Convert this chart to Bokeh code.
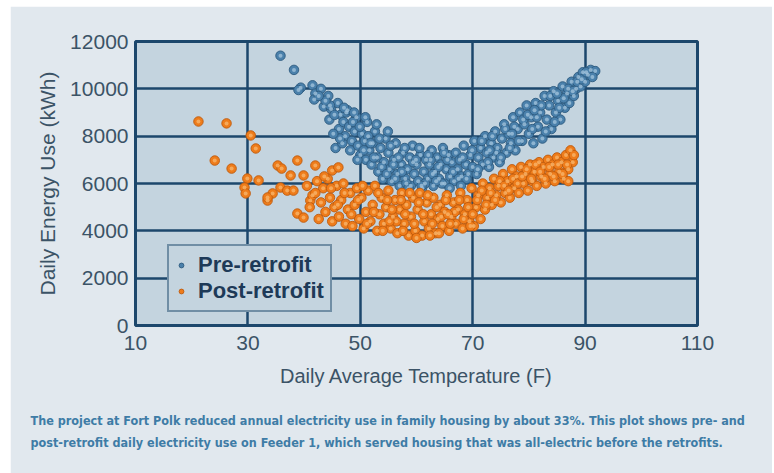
from bokeh.plotting import figure
from bokeh.models import Range1d, FixedTicker, Title, Legend, LegendItem
from bokeh.embed import file_html
from bokeh.resources import INLINE

# ---------------- data ----------------
pre_temp = [
    35.8, 38.2, 39.4, 39.0, 41.5, 42.0, 41.8, 43.5, 43.0, 44.3,
    44.8, 44.5, 45.6, 46.0, 46.5, 46.2, 47.0, 47.5, 47.3, 46.8,
    48.0, 48.5, 48.2, 49.0, 49.3, 49.6, 50.0, 50.3, 50.8, 51.0,
    51.2, 51.6, 52.0, 52.2, 52.6, 53.0, 53.2, 53.6, 54.0, 54.2,
    54.5, 55.0, 55.2, 55.6, 56.0, 56.3, 56.6, 57.0, 57.3, 57.6,
    58.0, 58.4, 58.8, 59.0, 59.3, 59.6, 60.0, 60.3, 60.7, 61.0,
    61.3, 61.7, 62.0, 62.3, 62.7, 63.0, 63.3, 63.7, 64.0, 64.3,
    64.7, 65.0, 65.3, 65.7, 66.0, 66.3, 66.7, 67.0, 67.3, 67.7,
    68.0, 68.4, 68.8, 69.2, 69.6, 70.0, 70.3, 70.7, 71.0, 71.4,
    71.8, 72.2, 72.5, 72.9, 73.3, 73.7, 74.0, 74.4, 74.8, 75.2,
    75.6, 76.0, 76.4, 76.8, 77.2, 77.6, 78.0, 78.4, 78.8, 79.2,
    79.6, 80.0, 80.4, 80.8, 81.2, 81.6, 82.0, 82.4, 82.8, 83.2,
    83.6, 84.0, 84.4, 84.8, 85.2, 85.6, 86.0, 86.4, 86.8, 87.2,
    87.6, 88.0, 88.4, 88.8, 89.2, 89.6, 90.0, 90.5, 91.0, 91.8,
    44.6, 45.4, 46.4, 47.7, 48.7, 49.9, 50.6, 51.4, 52.4, 53.4,
    53.8, 54.7, 55.4, 55.9, 56.8, 57.9, 58.2, 59.4, 60.5, 61.5,
    62.5, 62.9, 63.9, 64.5, 65.5, 66.5, 67.5, 68.2, 68.9, 69.9,
    70.9, 71.6, 72.7, 73.5, 74.2, 75.0, 75.8, 76.6, 77.4, 78.2,
    79.0, 79.8, 80.6, 81.4, 82.2, 83.0, 83.8, 84.6, 85.4, 86.2,
    87.0, 87.8, 88.6, 89.4, 90.2, 91.3, 73.0, 77.0, 81.0, 85.0,
    56.2, 58.6, 60.9, 63.5, 65.9, 67.9, 59.9, 62.1, 64.9, 57.4,
    45.2, 47.1, 48.9, 50.9, 52.9, 54.9, 43.8, 42.6, 49.5, 51.8,
]
pre_kwh = [
    11400, 10800, 10050, 9950, 10150, 9800, 9550, 9250, 10000, 9700,
    9150, 8700, 7500, 9400, 8900, 8300, 8600, 9000, 8000, 7700,
    8400, 7800, 7400, 8200, 8800, 7600, 7200, 8100, 7800, 7000,
    8600, 7400, 6800, 7700, 8200, 7100, 6500, 7500, 6200, 6900,
    7900, 7300, 6600, 6100, 7000, 7700, 6400, 5900, 6800, 7300,
    6200, 6600, 7100, 5900, 7600, 6400, 6800, 6100, 7200, 5800,
    6500, 7000, 6200, 6800, 7400, 5900, 6500, 7100, 6200, 6800,
    7500, 6000, 6600, 7200, 6300, 6900, 6100, 7300, 6600, 7000,
    6300, 7600, 6800, 6400, 7200, 6700, 7800, 6400, 7100, 7500,
    6800, 8000, 7300, 6700, 7700, 7100, 8200, 7500, 6900, 7900,
    8500, 7300, 8100, 7700, 8800, 7400, 8300, 9000, 7800, 8500,
    9300, 8100, 8800, 7700, 9400, 8400, 9000, 7900, 9700, 8700,
    9300, 8300, 9900, 9000, 9500, 8700, 10100, 9200, 9800, 9400,
    10300, 9700, 10000, 10500, 10100, 10700, 10300, 10600, 10800, 10750,
    9300, 8900, 7900, 9100, 8600, 8400, 7400, 8000, 7100, 7900,
    6700, 6400, 7600, 6800, 7100, 7500, 6000, 6900, 7500, 6000,
    7000, 6400, 6700, 6000, 7000, 6500, 6200, 7100, 6200, 7400,
    6600, 7800, 6900, 8000, 7300, 7100, 8300, 7500, 8400, 7800,
    8700, 8900, 8300, 8800, 9300, 8200, 9700, 8600, 9200, 9600,
    10000, 9900, 10300, 10400, 10700, 10500, 7400, 8100, 9100, 9800,
    6200, 5800, 5900, 6100, 5800, 5900, 7000, 7200, 7300, 6500,
    8100, 9200, 9000, 8800, 8500, 8200, 9500, 9700, 7000, 7700,
]

post_temp = [
    21.2, 26.2, 30.5, 31.4, 24.1, 27.1, 29.9, 29.4, 29.6, 31.9,
    33.5, 34.4, 35.3, 36.0, 37.6, 38.8, 39.9, 42.0, 45.0, 46.1,
    35.8, 37.0, 38.1, 33.5, 38.8, 39.9, 41.1,
    40.5, 41.0, 41.5, 42.3, 42.6, 43.0, 43.4, 43.8, 44.2, 44.6,
    45.0, 45.4, 45.8, 46.2, 46.6, 47.0, 47.4, 47.8, 48.2, 48.6,
    49.0, 49.4, 49.8, 50.2, 50.6, 51.0, 51.4, 51.8, 52.2, 52.6,
    53.0, 53.4, 53.8, 54.2, 54.6, 55.0, 55.4, 55.8, 56.2, 56.6,
    57.0, 57.4, 57.8, 58.2, 58.6, 59.0, 59.4, 59.8, 60.2, 60.6,
    61.0, 61.4, 61.8, 62.2, 62.6, 63.0, 63.4, 63.8, 64.2, 64.6,
    65.0, 65.4, 65.8, 66.2, 66.6, 67.0, 67.4, 67.8, 68.2, 68.6,
    69.0, 69.4, 69.8, 70.2, 70.6, 71.0, 71.4, 71.8, 72.2, 72.6,
    73.0, 73.4, 73.8, 74.2, 74.6, 75.0, 75.4, 75.8, 76.2, 76.6,
    77.0, 77.4, 77.8, 78.2, 78.6, 79.0, 79.4, 79.8, 80.2, 80.6,
    81.0, 81.4, 81.8, 82.2, 82.6, 83.0, 83.4, 83.8, 84.2, 84.6,
    85.0, 85.4, 85.8, 86.2, 86.6, 87.0, 87.4, 87.8, 87.0, 88.0,
    42.0, 43.6, 44.8, 46.0, 47.2, 48.4, 49.6, 50.4, 51.2, 52.4,
    53.2, 54.0, 54.8, 55.6, 56.4, 57.2, 58.0, 58.8, 59.6, 60.4,
    61.2, 62.0, 62.8, 63.6, 64.4, 65.2, 66.0, 66.8, 67.6, 68.4,
    69.2, 70.0, 70.8, 71.6, 72.4, 73.2, 74.0, 74.8, 75.6, 76.4,
    77.2, 78.0, 78.8, 79.6, 80.4, 81.2, 82.0, 82.8, 83.6, 84.4,
    85.2, 86.0, 86.8, 60.0, 62.4, 57.6, 55.2, 65.6, 64.0, 69.6,
]
post_kwh = [
    8620, 8540, 8030, 7480, 6970, 6630, 6210, 5830, 5580, 6130,
    5280, 5580, 6760, 6630, 6340, 6970, 6340, 6760, 6550, 6680,
    5830, 5700, 5700, 5410, 4730, 4560, 5280,
    5900, 5000, 5500, 6100, 4500, 5200, 5800, 4800, 6200, 5400,
    4400, 5000, 5900, 4600, 5300, 6000, 4300, 4900, 5600, 4200,
    5100, 5800, 4500, 5400, 4100, 4800, 5700, 4400, 5100, 5900,
    4000, 4700, 5400, 4300, 5000, 5700, 4100, 4600, 5300, 3900,
    4900, 5600, 4300, 5100, 3800, 4600, 5400, 4000, 4900, 5600,
    3800, 4400, 5200, 4100, 4700, 5400, 3900, 4500, 5100, 4200,
    4800, 5500, 4000, 4600, 5200, 4300, 4900, 5600, 4100, 4700,
    5300, 4400, 5800, 4200, 5000, 5500, 4500, 6000, 4900, 5400,
    5800, 5100, 6200, 5500, 5900, 5200, 6400, 5600, 6100, 5400,
    6600, 5800, 6300, 5600, 6700, 6000, 6400, 5700, 6800, 6100,
    6500, 5900, 6900, 6300, 6700, 6000, 7000, 6400, 6800, 6100,
    7100, 6500, 6900, 6200, 7200, 6600, 7400, 6900, 6100, 7200,
    5600, 6300, 5800, 5100, 5600, 4700, 5300, 5900, 4300, 4800,
    5600, 4000, 5300, 4900, 4400, 5300, 4700, 5600, 4300, 5200,
    4700, 5500, 4300, 5000, 4600, 5300, 4300, 4800, 5300, 4500,
    5000, 4700, 5300, 5700, 5100, 5600, 5300, 6100, 5900, 5700,
    6200, 6000, 6300, 6600, 6200, 6800, 6500, 6200, 6700, 6300,
    6800, 6400, 6800, 3700, 3800, 4000, 4400, 4700, 3900, 4200,
]

x_ticks = [10, 30, 50, 70, 90, 110]
y_ticks = [0, 2000, 4000, 6000, 8000, 10000, 12000]
series_labels = ["Pre-retrofit", "Post-retrofit"]
x_title = "Daily Average Temperature (F)"
y_title = "Daily Energy Use (kWh)"
caption_lines = [
    "The project at Fort Polk reduced annual electricity use in family housing by about 33%. This plot shows pre- and",
    "post-retrofit daily electricity use on Feeder 1, which served housing that was all-electric before the retrofits.",
]

# ---------------- styles ----------------
NAVY = "#1c476c"
PLOT_BG = "#c4d4df"
PANEL_BG = "#e1e8ee"
TEXT = "#3b5366"
FONT = "Liberation Sans"
CAPTION_FONT = "DejaVu Sans Condensed"

p = figure(width=762, height=467, output_backend="svg", toolbar_location=None,
           x_range=Range1d(10, 110), y_range=Range1d(0, 12000),
           min_border_left=125, min_border_right=75, min_border_top=35,
           min_border_bottom=148,
           background_fill_color=PLOT_BG, border_fill_color=PANEL_BG)
p.margin = (6, 2, 0, 10)

p.outline_line_color = NAVY
p.outline_line_width = 3

for ax in (p.xaxis, p.yaxis):
    ax.axis_line_color = None
    ax.major_tick_line_color = None
    ax.minor_tick_line_color = None
    ax.major_tick_out = 0
    ax.major_tick_in = 0
    ax.minor_tick_out = 0
    ax.major_label_text_font = FONT
    ax.major_label_text_font_size = "21px"
    ax.major_label_text_color = TEXT
    ax.axis_label_text_font = FONT
    ax.axis_label_text_font_size = "20px"
    ax.axis_label_text_font_style = "normal"
    ax.axis_label_text_color = TEXT

p.xaxis.ticker = FixedTicker(ticks=x_ticks)
p.yaxis.ticker = FixedTicker(ticks=y_ticks)
p.xaxis.major_label_standoff = 10
p.yaxis.major_label_standoff = 7
p.xaxis.axis_label = x_title
p.yaxis.axis_label = y_title
p.xaxis.axis_label_standoff = 12
p.yaxis.axis_label_standoff = 8
p.yaxis.axis_label_text_font_size = "21px"

p.xgrid.ticker = FixedTicker(ticks=x_ticks)
p.ygrid.ticker = FixedTicker(ticks=y_ticks)
for g in (p.xgrid, p.ygrid):
    g.grid_line_color = NAVY
    g.grid_line_width = 2.5
    g.grid_line_alpha = 1.0

r_pre = p.scatter(pre_temp, pre_kwh, size=9.5, fill_color="#4a80ab",
                  line_color="#2d5a7f", line_width=0.9)
p.scatter(pre_temp, pre_kwh, size=4, fill_color="#a5c6de", fill_alpha=0.75,
          line_color=None)
r_post = p.scatter(post_temp, post_kwh, size=9.5, fill_color="#ee7c1b",
                   line_color="#bd5a0d", line_width=0.9)
p.scatter(post_temp, post_kwh, size=4, fill_color="#f8b46a", fill_alpha=0.8,
          line_color=None)

legend = Legend(items=[LegendItem(label=series_labels[0], renderers=[r_pre]),
                       LegendItem(label=series_labels[1], renderers=[r_post])],
                location=(32, 13), margin=0, padding=6, spacing=0,
                glyph_width=12, glyph_height=22, label_height=22,
                label_standoff=11,
                label_text_font=FONT, label_text_font_size="22px",
                label_text_font_style="bold", label_text_color="#1e3a58",
                background_fill_color=PLOT_BG, background_fill_alpha=1.0,
                border_line_color=NAVY, border_line_width=2.5)
p.add_layout(legend)

p.add_layout(Title(text="\n".join(caption_lines), align="left", offset=-105,
                   standoff=44, text_font=CAPTION_FONT,
                   text_font_size="12.5px", text_font_style="bold",
                   text_line_height=1.47,
                   text_color="#3e7ca6"), "below")

open("out.html", "w").write(file_html(p, INLINE))
